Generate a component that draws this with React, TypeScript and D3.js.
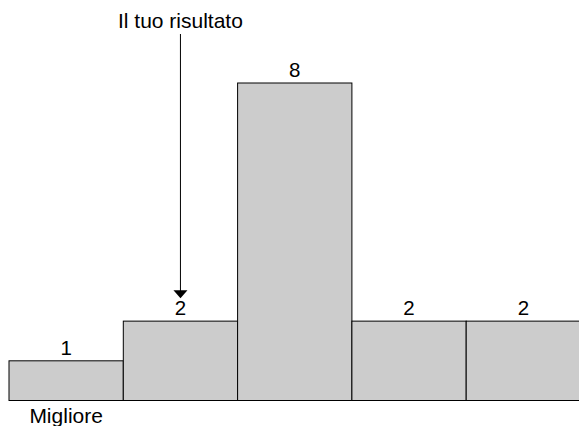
import React, { useEffect, useRef } from 'react';
import * as d3 from 'd3';

const categories = ['A', 'B', 'C', 'D', 'E'];
const counts = [1, 2, 8, 2, 2];
const yourResultIndex = 1;
const bestLabel = 'Migliore';
const resultLabel = 'Il tuo risultato';

const App: React.FC = () => {
  const svgRef = useRef<SVGSVGElement>(null);

  useEffect(() => {
    if (!svgRef.current) return;
    const svg = d3.select(svgRef.current);
    svg.selectAll('*').remove();

    const font = "'Liberation Sans', Arial, sans-serif";

    const x = d3.scaleBand<string>()
      .domain(categories)
      .range([9, 580.5])
      .padding(0);

    const y = d3.scaleLinear()
      .domain([0, 8])
      .range([400.5, 83]);

    const data = categories.map((c, i) => ({ cat: c, value: counts[i] }));

    // bars
    svg.append('g')
      .selectAll('rect')
      .data(data)
      .enter().append('rect')
      .attr('x', d => x(d.cat)!)
      .attr('y', d => y(d.value))
      .attr('width', x.bandwidth())
      .attr('height', d => y(0) - y(d.value))
      .attr('fill', '#cccccc')
      .attr('stroke', '#000')
      .attr('stroke-width', 1);

    // value labels
    svg.append('g')
      .selectAll('text')
      .data(data)
      .enter().append('text')
      .attr('x', d => x(d.cat)! + x.bandwidth() / 2)
      .attr('y', d => y(d.value) - 6)
      .attr('text-anchor', 'middle')
      .style('font-family', font)
      .style('font-size', '20.5px')
      .attr('fill', '#000')
      .text(d => d.value);

    // "best" label under the first bar
    svg.append('text')
      .attr('x', x(categories[0])! + x.bandwidth() / 2)
      .attr('y', 423)
      .attr('text-anchor', 'middle')
      .style('font-family', font)
      .style('font-size', '21px')
      .text(bestLabel);

    // arrow pointing to your result
    const ax = x(categories[yourResultIndex])! + x.bandwidth() / 2;
    const tipY = y(counts[yourResultIndex]) - 23;
    svg.append('line')
      .attr('x1', ax)
      .attr('x2', ax)
      .attr('y1', 34)
      .attr('y2', tipY - 6)
      .attr('stroke', '#000')
      .attr('stroke-width', 1);

    svg.append('path')
      .attr('d', `M${ax - 7},${tipY - 8}L${ax + 7},${tipY - 8}L${ax},${tipY}Z`)
      .attr('fill', '#000');

    svg.append('text')
      .attr('x', ax)
      .attr('y', 27.5)
      .attr('text-anchor', 'middle')
      .style('font-family', font)
      .style('font-size', '21px')
      .text(resultLabel);
  }, []);

  return (
    <svg
      ref={svgRef}
      width={579}
      height={426}
      style={{ position: 'absolute', left: 0, top: 0, background: '#fff' }}
    />
  );
};

export default App;
